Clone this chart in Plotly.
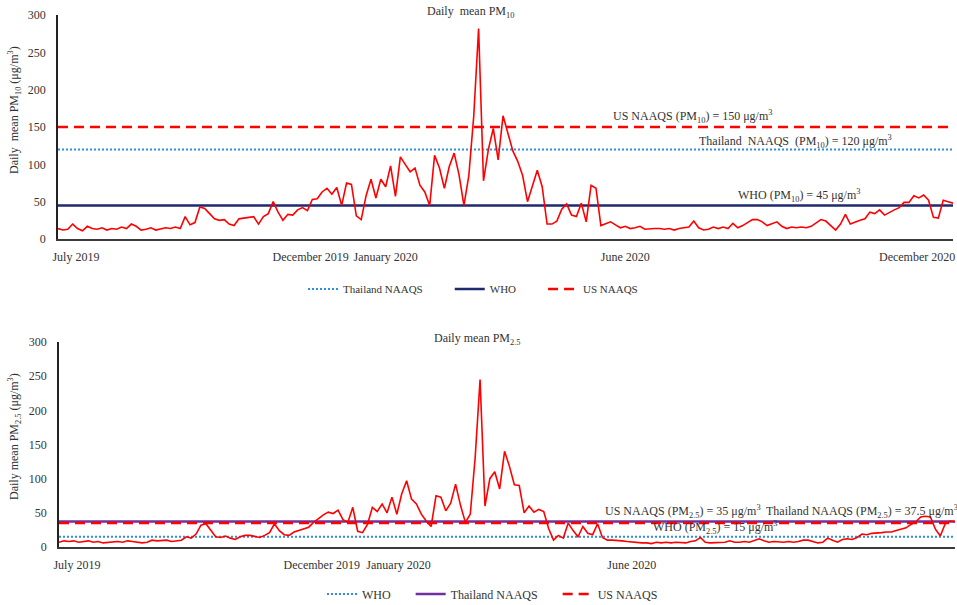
import pandas as pd
import plotly.graph_objects as go

# ---------------- data ----------------
start_date = "2019-07-01"
end_date = "2020-12-31"
step_days = 3

pm10 = [14, 12, 13, 20, 14, 11, 17, 14, 13, 15,
        12, 14, 13, 16, 14, 20, 17, 12, 13, 15,
        12, 14, 15, 14, 16, 14, 30, 19, 22, 43,
        41, 34, 27, 25, 26, 20, 18, 27, 28, 28,
        30, 20, 30, 34, 50, 36, 25, 33, 32, 39,
        42, 38, 53, 54, 63, 68, 60, 69, 45, 75,
        73, 31, 26, 58, 80, 55, 80, 70, 98, 57,
        110, 100, 90, 95, 72, 63, 45, 112, 95, 68,
        97, 115, 86, 45, 85, 164, 282, 78, 120, 148,
        106, 165, 140, 118, 104, 85, 50, 72, 92, 70,
        20, 20, 24, 40, 47, 32, 30, 48, 23, 72,
        68, 18, 21, 23, 19, 15, 17, 14, 15, 17,
        13, 14, 14, 14, 13, 14, 12, 14, 15, 16,
        24, 15, 12, 13, 16, 14, 16, 14, 21, 15,
        18, 22, 26, 26, 23, 18, 21, 23, 17, 14,
        16, 15, 16, 15, 17, 21, 26, 24, 18, 12,
        20, 33, 20, 23, 25, 27, 36, 34, 39, 32,
        36, 39, 42, 49, 49, 58, 55, 59, 52, 29,
        28, 52, 50, 48]

pm25 = [7, 9, 8, 9, 7, 8, 9, 7, 8, 6,
        7, 8, 8, 7, 9, 8, 7, 6, 7, 10,
        9, 9, 10, 8, 9, 10, 15, 13, 19, 32,
        34, 24, 15, 14, 16, 13, 11, 15, 17, 17,
        16, 14, 17, 21, 34, 24, 18, 17, 22, 24,
        26, 29, 36, 42, 47, 51, 49, 54, 40, 36,
        58, 23, 21, 33, 58, 52, 63, 50, 73, 48,
        78, 97, 70, 63, 48, 38, 30, 75, 73, 53,
        64, 92, 61, 36, 48, 131, 245, 60, 100, 110,
        85, 140, 118, 91, 90, 50, 60, 51, 55, 52,
        27, 10, 17, 13, 35, 24, 15, 30, 20, 18,
        34, 14, 10, 10, 10, 9, 8, 7, 6, 6,
        6, 5, 7, 6, 7, 6, 7, 6, 6, 8,
        9, 14, 7, 6, 6, 6, 7, 9, 7, 7,
        8, 7, 10, 12, 9, 7, 8, 7, 7, 8,
        7, 8, 10, 10, 8, 6, 7, 13, 10, 7,
        11, 12, 11, 14, 19, 18, 20, 20, 21, 22,
        22, 24, 26, 28, 33, 37, 44, 45, 44, 26,
        16, 34, 38, 37]

# standards (µg/m3)
pm10_std_names = ["Thailand NAAQS", "WHO", "US NAAQS"]
pm10_std_values = [120, 45, 150]
pm25_std_names = ["WHO", "Thailand NAAQS", "US NAAQS"]
pm25_std_values = [15, 37.5, 35]

# x tick labels
tick_text = ["July 2019", "December 2019", "January 2020", "June 2020", "December 2020"]
tick_dates_top = ["2019-07-12", "2019-12-03", "2020-01-18", "2020-06-13", "2020-12-09"]
tick_dates_bot = ["2019-07-12", "2019-12-09", "2020-01-25", "2020-06-16", "2020-12-10"]
y_ticks = [0, 50, 100, 150, 200, 250, 300]

dates = pd.date_range(start_date, periods=len(pm10), freq=f"{step_days}D")

# ---------------- styles ----------------
FONT = "Liberation Serif"
TXT = "#333333"
RED = "#FF0000"
BLUE_DOT = "#2E8FDB"
NAVY = "#1F2A6E"
PURPLE = "#7030A0"
NB = "\u00a0"

std_style = {
    "Thailand NAAQS_10": dict(color=BLUE_DOT, width=2, dash="2px,2px"),
    "WHO_10": dict(color=NAVY, width=2.5, dash="solid"),
    "US NAAQS_10": dict(color=RED, width=2.5, dash="10px,6px"),
    "WHO_25": dict(color=BLUE_DOT, width=2, dash="2px,2px"),
    "Thailand NAAQS_25": dict(color=PURPLE, width=2.5, dash="solid"),
    "US NAAQS_25": dict(color=RED, width=2.5, dash="10px,6px"),
}
pad10 = [8, 8, 0]
pad25 = [5, 5, 0]

fig = go.Figure()

# standards PM10
for name, val, p in zip(pm10_std_names, pm10_std_values, pad10):
    fig.add_trace(go.Scatter(x=[start_date, end_date], y=[val, val], mode="lines",
                             name=name + NB * p, line=std_style[name + "_10"],
                             xaxis="x", yaxis="y", legend="legend", hoverinfo="skip"))
fig.add_trace(go.Scatter(x=dates, y=pm10, mode="lines", line=dict(color=RED, width=1.6),
                         showlegend=False, xaxis="x", yaxis="y", name="PM10"))

# standards PM2.5
for name, val, p in zip(pm25_std_names, pm25_std_values, pad25):
    fig.add_trace(go.Scatter(x=[start_date, end_date], y=[val, val], mode="lines",
                             name=name + NB * p, line=std_style[name + "_25"],
                             xaxis="x2", yaxis="y2", legend="legend2", hoverinfo="skip"))
fig.add_trace(go.Scatter(x=dates, y=pm25, mode="lines", line=dict(color=RED, width=1.6),
                         showlegend=False, xaxis="x2", yaxis="y2", name="PM2.5"))

W, H = 957, 605

def px_x(p):
    return p / W

def px_y(p):
    return 1 - p / H

xcommon = dict(type="date", range=[start_date, end_date], showline=True, linecolor="#3a3a3a",
               linewidth=2, ticks="", showgrid=False, zeroline=False, tickmode="array",
               ticktext=tick_text, tickfont=dict(family=FONT, size=12, color=TXT),
               ticklabelstandoff=6, automargin=False)
ycommon = dict(range=[0, 300], tickvals=y_ticks, showline=True, linecolor="#222222", linewidth=1.5,
               ticks="", showgrid=False, zeroline=False, automargin=False,
               tickfont=dict(family=FONT, size=12, color=TXT), ticklabelstandoff=8)

annotations = [
    dict(text="Daily  mean PM<sub>10</sub>", x=px_x(470), y=px_y(12)),
    dict(text="Daily mean PM<sub>2.5</sub>", x=px_x(477), y=px_y(339)),
    dict(text="US NAAQS (PM<sub>10</sub>) = 150 μg/m<sup>3</sup>", x=px_x(692), y=px_y(117)),
    dict(text="Thailand  NAAQS  (PM<sub>10</sub>) = 120 μg/m<sup>3</sup>", x=px_x(795), y=px_y(141)),
    dict(text="WHO (PM<sub>10</sub>) = 45 μg/m<sup>3</sup>", x=px_x(799), y=px_y(195)),
    dict(text="US NAAQS (PM<sub>2.5</sub>) = 35 μg/m<sup>3</sup>", x=px_x(683), y=px_y(511)),
    dict(text="Thailand NAAQS (PM<sub>2.5</sub>) = 37.5 μg/m<sup>3</sup>", x=px_x(862), y=px_y(511)),
    dict(text="WHO (PM<sub>2.5</sub>) = 15 μg/m<sup>3</sup>", x=px_x(715), y=px_y(527)),
    dict(text="Daily  mean PM<sub>10</sub> (μg/m<sup>3</sup>)", x=px_x(14), y=px_y(110), textangle=-90),
    dict(text="Daily mean PM<sub>2.5</sub> (μg/m<sup>3</sup>)", x=px_x(15), y=px_y(437), textangle=-90),
]
for a in annotations:
    a.update(xref="paper", yref="paper", showarrow=False, xanchor="center", yanchor="middle",
             font=dict(family=FONT, size=12, color=TXT))

fig.update_layout(
    width=W, height=H, margin=dict(l=0, r=0, t=0, b=0, autoexpand=False),
    paper_bgcolor="white", plot_bgcolor="white",
    xaxis=dict(xcommon, domain=[px_x(58), px_x(953)], tickvals=tick_dates_top, anchor="y"),
    yaxis=dict(ycommon, domain=[px_y(239), px_y(15)], anchor="x"),
    xaxis2=dict(xcommon, domain=[px_x(59), px_x(955)], tickvals=tick_dates_bot, anchor="y2"),
    yaxis2=dict(ycommon, domain=[px_y(547), px_y(342)], anchor="x2"),
    annotations=annotations,
    legend=dict(orientation="h", x=px_x(303), y=px_y(289), xanchor="left", yanchor="middle",
                font=dict(family=FONT, size=11, color=TXT), bgcolor="rgba(0,0,0,0)"),
    legend2=dict(orientation="h", x=px_x(322), y=px_y(594), xanchor="left", yanchor="middle",
                 font=dict(family=FONT, size=12, color=TXT), bgcolor="rgba(0,0,0,0)"),
    showlegend=True,
)

fig.write_html("out.html", config={"displayModeBar": False},
               post_script="document.body.style.margin='0';document.body.style.overflow='hidden';")
